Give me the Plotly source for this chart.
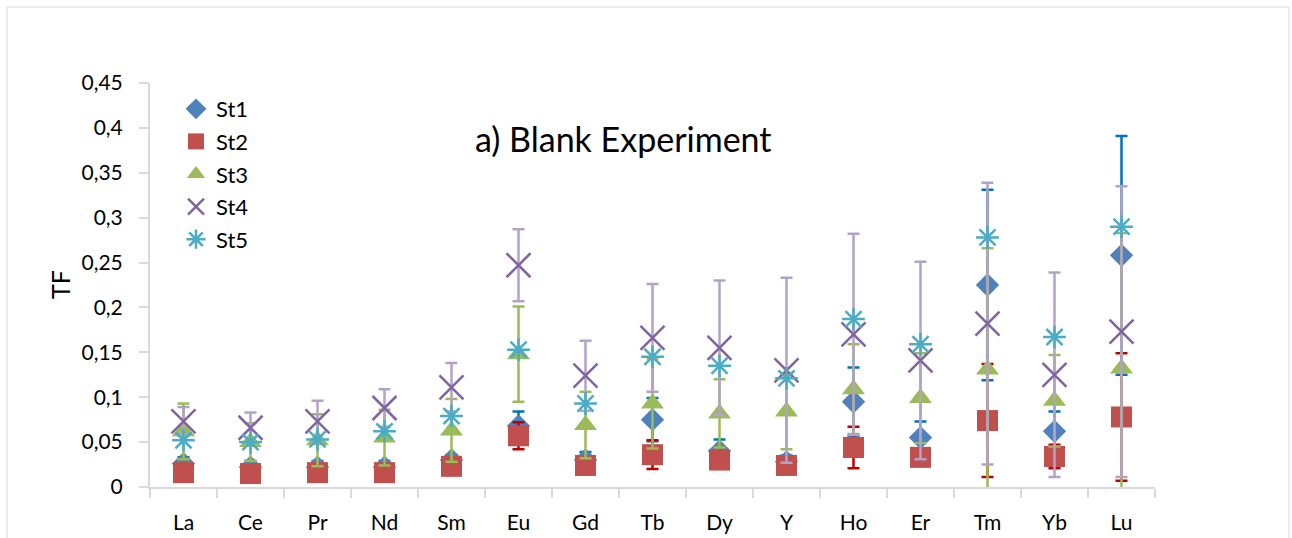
import plotly.graph_objects as go

categories = ["La", "Ce", "Pr", "Nd", "Sm", "Eu", "Gd", "Tb", "Dy", "Y", "Ho", "Er", "Tm", "Yb", "Lu"]

st1 = [0.026, 0.022, 0.022, 0.022, 0.030, 0.068, 0.030, 0.075, 0.040, 0.028, 0.095, 0.055, 0.225, 0.062, 0.258]
st1_err = [0.007, 0.007, 0.007, 0.007, 0.006, 0.016, 0.009, 0.024, 0.013, 0.007, 0.038, 0.018, 0.106, 0.022, 0.133]

st2 = [0.016, 0.015, 0.016, 0.016, 0.023, 0.057, 0.024, 0.036, 0.030, 0.024, 0.044, 0.033, 0.074, 0.034, 0.078]
st2_err = [0.004, 0.004, 0.004, 0.004, 0.005, 0.015, 0.006, 0.016, 0.008, 0.006, 0.023, 0.008, 0.063, 0.013, 0.071]

st3 = [0.062, 0.050, 0.052, 0.055, 0.063, 0.148, 0.069, 0.093, 0.082, 0.084, 0.109, 0.099, 0.131, 0.096, 0.132]
st3_err = [0.031, 0.021, 0.029, 0.031, 0.035, 0.053, 0.037, 0.050, 0.038, 0.042, 0.050, 0.050, 0.135, 0.051, 0.151]

st4 = [0.073, 0.066, 0.073, 0.088, 0.111, 0.247, 0.124, 0.166, 0.155, 0.130, 0.170, 0.141, 0.182, 0.125, 0.173]
st4_err = [0.016, 0.017, 0.023, 0.021, 0.027, 0.040, 0.039, 0.060, 0.075, 0.103, 0.112, 0.110, 0.157, 0.114, 0.162]

st5 = [0.052, 0.050, 0.053, 0.062, 0.079, 0.153, 0.093, 0.145, 0.135, 0.121, 0.187, 0.159, 0.278, 0.167, 0.290]

FONT = "Lato"

fig = go.Figure()

fig.add_trace(go.Scatter(
    x=categories, y=st1, name="St1", mode="markers", legendgroup="g1",
    marker=dict(symbol="diamond", size=18, color="#4F81BD"),
    error_y=dict(type="data", array=st1_err, color="#0070C0", thickness=2.5, width=6),
))
fig.add_trace(go.Scatter(
    x=categories, y=st2, name="St2", mode="markers", legendgroup="g2",
    marker=dict(symbol="square", size=21, color="#C0504D"),
    error_y=dict(type="data", array=st2_err, color="#C00000", thickness=2.5, width=6),
))
fig.add_trace(go.Scatter(
    x=categories, y=st3, name="St3", mode="markers", legendgroup="g3",
    marker=dict(symbol="triangle-up", size=20, color="#9BBB59"),
    error_y=dict(type="data", array=st3_err, color="#9BBB59", thickness=2.5, width=6),
))
fig.add_trace(go.Scatter(
    x=categories, y=st4, name="St4", mode="markers", legendgroup="g4",
    marker=dict(symbol="x-thin-open", size=24, color="#8064A2", line=dict(width=2.5, color="#8064A2")),
    error_y=dict(type="data", array=st4_err, color="#B3A2C7", thickness=2.5, width=6),
))
fig.add_trace(go.Scatter(
    x=categories, y=st5, name="St5", mode="markers", legendgroup="g5",
    marker=dict(symbol="asterisk-open", size=19, color="#4BACC6", line=dict(width=2.5, color="#4BACC6")),
))

L, R, T, B = 150, 137, 83, 51
W, H = 1292, 538
pw = W - L - R
ph = H - T - B

def px_x(p):
    return (p - L) / pw

def px_y(p):
    return (H - B - p) / ph

fig.update_layout(
    width=W, height=H,
    margin=dict(l=L, r=R, t=T, b=B, pad=0, autoexpand=False),
    paper_bgcolor="white", plot_bgcolor="white",
    separators=",.",
    font=dict(family=FONT, color="#000000", size=21),
    showlegend=True,
    legend=dict(
        x=px_x(176), y=px_y(88), xanchor="left", yanchor="top",
        font=dict(family=FONT, size=22, color="#000000"),
        bgcolor="rgba(0,0,0,0)", itemwidth=30, tracegroupgap=1,
    ),
    xaxis=dict(
        type="category", range=[-0.5, 14.5], automargin=False,
        showline=True, linecolor="#D9D9D9", linewidth=2,
        ticks="outside", tickson="boundaries", ticklen=9, tickcolor="#D9D9D9", tickwidth=2,
        showgrid=False, zeroline=False,
        tickfont=dict(family=FONT, size=21, color="#000000"),
        ticklabelstandoff=16,
    ),
    yaxis=dict(
        range=[0, 0.45], dtick=0.05, tick0=0, automargin=False,
        showline=True, linecolor="#D9D9D9", linewidth=2,
        ticks="outside", ticklen=9, tickcolor="#D9D9D9", tickwidth=2,
        showgrid=False, zeroline=False,
        tickfont=dict(family=FONT, size=21, color="#000000"),
        ticklabelstandoff=12,
    ),
    annotations=[
        dict(text="a) Blank Experiment", x=px_x(623), y=px_y(138), xref="paper", yref="paper",
             xanchor="center", yanchor="middle", showarrow=False,
             font=dict(family=FONT, size=34, color="#000000")),
        dict(text="TF", x=px_x(60), y=px_y(285), xref="paper", yref="paper",
             xanchor="center", yanchor="middle", showarrow=False, textangle=-90,
             font=dict(family=FONT, size=25, color="#000000")),
    ],
    shapes=[
        dict(type="rect", xref="paper", yref="paper",
             x0=px_x(7), x1=px_x(1289), y0=px_y(560), y1=px_y(7),
             line=dict(color="#D9D9D9", width=1), fillcolor="rgba(0,0,0,0)", layer="below"),
    ],
)

fig.write_html("out.html")
